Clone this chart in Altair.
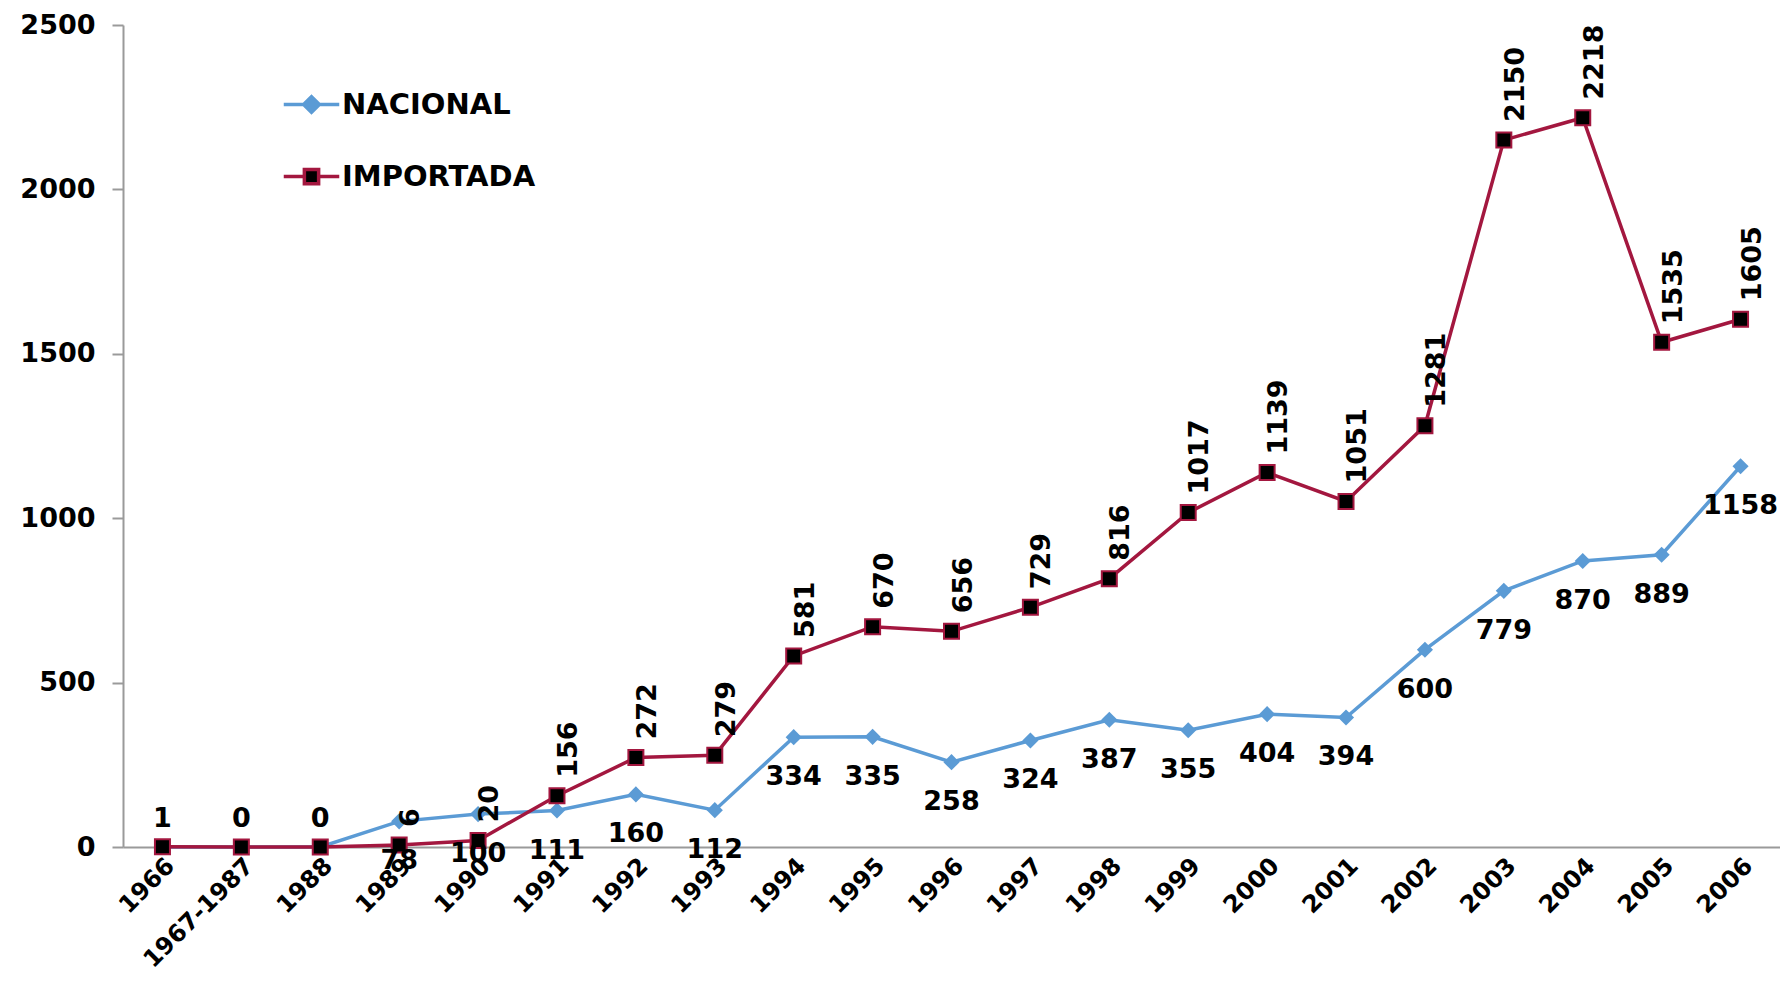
import altair as alt
import pandas as pd

categorias = ["1966", "1967-1987", "1988", "1989", "1990", "1991", "1992", "1993",
              "1994", "1995", "1996", "1997", "1998", "1999", "2000", "2001",
              "2002", "2003", "2004", "2005", "2006"]
nacional = [0, 0, 0, 78, 100, 111, 160, 112, 334, 335, 258, 324, 387, 355, 404,
            394, 600, 779, 870, 889, 1158]
importada = [1, 0, 0, 6, 20, 156, 272, 279, 581, 670, 656, 729, 816, 1017, 1139,
             1051, 1281, 2150, 2218, 1535, 1605]
series = ["NACIONAL", "IMPORTADA"]
y_ticks = [0, 500, 1000, 1500, 2000, 2500]

rows = []
for i, c in enumerate(categorias):
    rows.append({"Año": c, "Serie": "NACIONAL", "Valor": nacional[i], "idx": i})
    rows.append({"Año": c, "Serie": "IMPORTADA", "Valor": importada[i], "idx": i})
df = pd.DataFrame(rows)

FONT = "DejaVu Sans"
BLUE = "#5B9BD5"
RED = "#A3173F"
GRAY = "#9a9a9a"

x = alt.X("Año:N", sort=categorias,
          scale=alt.Scale(type="point", padding=0.5),
          axis=alt.Axis(title=None, labelAngle=-45, labelAlign="right",
                        labelBaseline="middle", labelFont=FONT,
                        labelFontWeight="bold", labelFontSize=24,
                        labelColor="black", ticks=False, domainColor=GRAY,
                        domainWidth=2, labelPadding=15, labelOffset=8,
                        grid=False))
y = alt.Y("Valor:Q", scale=alt.Scale(domain=[0, 2500], nice=False),
          axis=alt.Axis(title=None, values=y_ticks, labelFont=FONT,
                        labelFontWeight="bold", labelFontSize=27,
                        labelColor="black", tickColor=GRAY, tickSize=11,
                        tickWidth=2, domainColor=GRAY, domainWidth=2,
                        labelPadding=17, grid=False, format="d"))

leg = alt.Legend(
    title=None, orient="none", legendX=174, legendY=65,
    labelFont=FONT, labelFontSize=29, labelFontWeight="bold",
    labelColor="black", labelLimit=0, symbolSize=225, symbolStrokeWidth=3.5,
    symbolOpacity=1, labelOffset=16, rowPadding=42, padding=0,
)

nac_path = "M-3.7,0L3.7,0M0,-1.05L1.05,0L0,1.05L-1.05,0Z"
imp_path = "M-3.7,0L-0.95,0M0.95,0L3.7,0M-0.95,-0.95L0.95,-0.95L0.95,0.95L-0.95,0.95Z"

base = alt.Chart(df).encode(x=x, y=y)

nac_line = base.transform_filter(alt.datum.Serie == "NACIONAL").mark_line(
    strokeWidth=3.5, color=BLUE)
imp_line = base.transform_filter(alt.datum.Serie == "IMPORTADA").mark_line(
    strokeWidth=3.5, color=RED)

# legend-only layer (no data rows drawn)
legend_layer = base.transform_filter(alt.datum.idx < 0).mark_point(filled=True, size=225).encode(
    shape=alt.Shape("Serie:N", scale=alt.Scale(domain=series, range=[nac_path, imp_path]), legend=leg),
    fill=alt.Fill("Serie:N", scale=alt.Scale(domain=series, range=[BLUE, "black"]), legend=leg),
    stroke=alt.Stroke("Serie:N", scale=alt.Scale(domain=series, range=[BLUE, RED]), legend=leg),
)

nac_pts = base.transform_filter(alt.datum.Serie == "NACIONAL").mark_point(
    shape="diamond", filled=True, size=260, color=BLUE, opacity=1)
imp_pts = base.transform_filter(alt.datum.Serie == "IMPORTADA").mark_point(
    shape="square", filled=True, size=225, fill="black", stroke=RED,
    strokeWidth=2, opacity=1)

nac_lab = base.transform_filter(
    (alt.datum.Serie == "NACIONAL") & (alt.datum.idx >= 3)
).mark_text(dy=40, font=FONT, fontSize=27, fontWeight="bold", color="black").encode(
    text=alt.Text("Valor:Q", format="d"))

imp_lab_h = base.transform_filter(
    (alt.datum.Serie == "IMPORTADA") & (alt.datum.idx < 3)
).mark_text(dy=-28, font=FONT, fontSize=27, fontWeight="bold", color="black").encode(
    text=alt.Text("Valor:Q", format="d"))

imp_lab_v = base.transform_filter(
    (alt.datum.Serie == "IMPORTADA") & (alt.datum.idx >= 3)
).mark_text(angle=270, align="left", baseline="middle", dx=18, dy=12,
            font=FONT, fontSize=27, fontWeight="bold", color="black").encode(
    text=alt.Text("Valor:Q", format="d"))

chart = alt.layer(nac_line, imp_line, legend_layer, nac_pts, imp_pts,
                  nac_lab, imp_lab_h, imp_lab_v).properties(
    width=1657, height=822,
    padding={"left": 115, "top": 17, "right": 0, "bottom": 132},
    autosize=alt.AutoSizeParams(type="none"),
    background="white",
).configure_view(stroke=None)

chart.save("out.html", embed_options={"renderer": "svg", "actions": False})
